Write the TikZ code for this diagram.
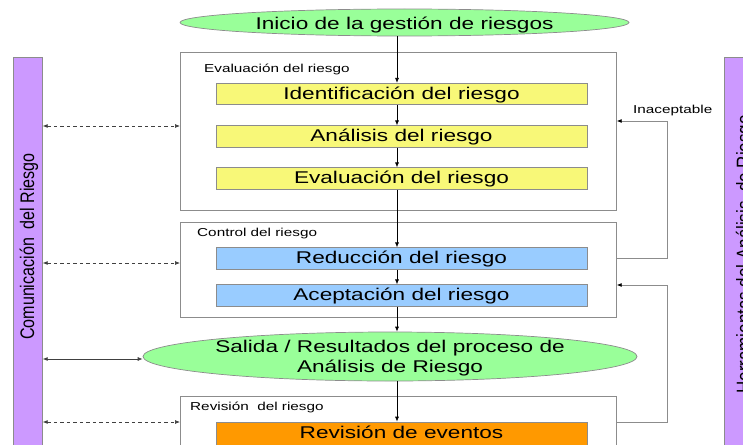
\documentclass[tikz,border=0pt]{standalone}
\usepackage{fontspec}
\setmainfont{Liberation Sans}[FakeStretch=1.33]
\newfontfamily\vertfont{Liberation Sans}[FakeStretch=0.82]
\usetikzlibrary{shapes.geometric,arrows.meta}
\definecolor{cgreen}{HTML}{99FF99}
\definecolor{cyellow}{HTML}{F8F878}
\definecolor{cblue}{HTML}{99CCFF}
\definecolor{corange}{HTML}{FF9900}
\definecolor{cpurple}{HTML}{CC99FF}
\definecolor{cline}{HTML}{8C8C8C}
\begin{document}
\begin{tikzpicture}[x=1pt,y=-1pt,
 big/.style={draw=cline, fill=white, line width=0.7pt, minimum width=436pt, anchor=north west, inner sep=0pt},
 stepbox/.style={draw=cline, line width=0.7pt, minimum width=371pt, minimum height=21.5pt, inner sep=0pt, text height=12.2pt, text depth=2pt, font=\fontsize{17}{20}\selectfont},
 oval/.style={ellipse, draw=cline, fill=cgreen, line width=0.7pt, inner sep=0pt},
 ovaltext/.style={inner sep=0pt, anchor=base, font=\fontsize{17}{20}\selectfont},
 lbl/.style={anchor=base west, inner sep=0pt, font=\fontsize{11.5}{13}\selectfont},
 bar/.style={draw=cline, fill=cpurple, line width=0.7pt, anchor=north west, minimum width=29pt, minimum height=400pt, inner sep=0pt},
 vtext/.style={rotate=90, anchor=base, inner sep=0pt},
 arr/.style={-{Latex[length=5pt,width=4pt]}, line width=0.7pt},
 darr/.style={{Latex[length=5pt,width=4pt]}-{Latex[length=5pt,width=4pt]}, dash pattern=on 3.5pt off 3pt, draw=black!75, line width=0.7pt},
 sarr/.style={{Latex[length=5pt,width=4pt]}-{Latex[length=5pt,width=4pt]}, draw=black!75, line width=0.7pt},
 fb/.style={-{Latex[length=5pt,width=4pt,black]}, draw=black!45, line width=0.8pt}
]
\useasboundingbox (0,0) rectangle (743,444);

% side bars
\node[bar] (comm) at (13,57) {};
\node[bar, minimum width=40pt] (herr) at (724,57) {};
\node[vtext, font=\vertfont\fontsize{19.6}{22}\selectfont] (commt) at (34,246.5) {Comunicación\ \ del Riesgo};
\node[vtext, font=\vertfont\fontsize{20.7}{22}\selectfont] (herrt) at (751,254.5) {Herramientas del Análisis\ \ de Riesgo};

% container boxes
\node[big, minimum height=158pt] (eval) at (180,52) {};
\node[big, minimum height=95pt] (ctrl) at (180,222) {};
\node[big, minimum height=70pt] (rev) at (180,396) {};

\node[lbl] (evall) at (204,72.3) {Evaluación del riesgo};
\node[lbl] (ctrll) at (197,236.7) {Control del riesgo};
\node[lbl] (revl) at (190,410.7) {Revisión\ \ del riesgo};
\node[lbl] (inac) at (633,113.3) {Inaceptable};

% step boxes
\node[stepbox, fill=cyellow] (id) at (401.5,94) {Identificación del riesgo};
\node[stepbox, fill=cyellow] (an) at (401.5,136.5) {Análisis del riesgo};
\node[stepbox, fill=cyellow] (ev) at (401.5,178.5) {Evaluación del riesgo};
\node[stepbox, fill=cblue] (red) at (401.5,258.5) {Reducción del riesgo};
\node[stepbox, fill=cblue] (ac) at (401.5,295.5) {Aceptación del riesgo};
\node[stepbox, fill=corange, minimum height=23pt] (revev) at (401.5,433.5) {Revisión de eventos};

% ellipses
\node[oval, minimum width=449pt, minimum height=27pt] (ini) at (404.5,22.5) {};
\node[ovaltext] (init) at (404.5,30) {Inicio de la gestión de riesgos};
\node[oval, minimum width=494pt, minimum height=49pt] (sal) at (390,356.5) {};
\node[ovaltext] (salt1) at (390,352.7) {Salida / Resultados del proceso de};
\node[ovaltext] (salt2) at (390,372.7) {Análisis de Riesgo};

% main flow
\coordinate (ax) at (397,0);
\draw[arr] (ini.south -| ax) -- (id.north -| ax);
\draw[arr] (id.south -| ax) -- (an.north -| ax);
\draw[arr] (an.south -| ax) -- (ev.north -| ax);
\draw[arr] (ev.south -| ax) -- (red.north -| ax);
\draw[arr] (red.south -| ax) -- (ac.north -| ax);
\draw[arr] (ac.south -| ax) -- (sal.north -| ax);
\draw[arr] (sal.south -| ax) -- (revev.north -| ax);

% communication links
\coordinate (l1) at (0,126);
\coordinate (l2) at (0,263);
\coordinate (l3) at (0,359);
\coordinate (l4) at (0,422);
\draw[darr] (comm.east |- l1) -- (eval.west |- l1);
\draw[darr] (comm.east |- l2) -- (ctrl.west |- l2);
\draw[sarr] (comm.east |- l3) -- (sal.west |- l3);
\draw[darr] (comm.east |- l4) -- (rev.west |- l4);

% feedback loops
\coordinate (fx) at (667,0);
\coordinate (f1) at (0,258);
\coordinate (f2) at (0,121);
\coordinate (f3) at (0,422);
\coordinate (f4) at (0,285);
\draw[fb] (ctrl.east |- f1) -- (fx |- f1) -- (fx |- f2) -- (eval.east |- f2);
\draw[fb] (rev.east |- f3) -- (fx |- f3) -- (fx |- f4) -- (ctrl.east |- f4);
\end{tikzpicture}
\end{document}
